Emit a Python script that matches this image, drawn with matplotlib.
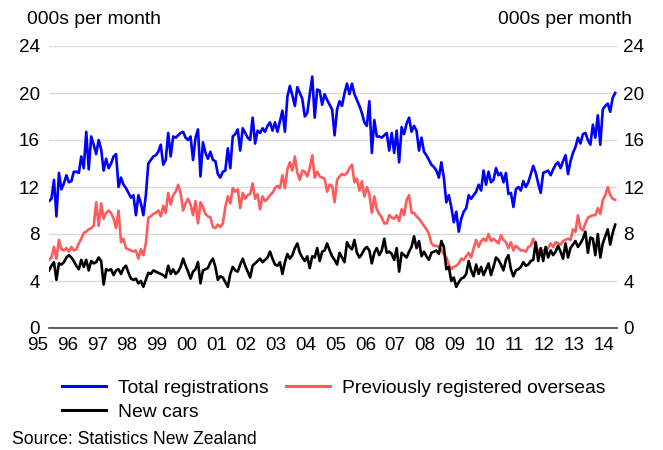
import numpy as np
import matplotlib
matplotlib.use("Agg")
import matplotlib.pyplot as plt

# ---------------- data (000s per month), monthly from May 1995 ----------------
start_year = 1995
start_month = 5

total = [
    10.8, 11.0, 12.6, 9.5, 13.2, 11.8, 12.3, 13.0, 12.4, 12.5, 13.3, 13.3,
    13.2, 14.6, 13.6, 16.7, 13.5, 16.3, 15.6, 14.8, 16.0, 15.2, 13.4, 14.4,
    13.6, 14.0, 14.6, 14.8, 12.0, 12.8, 12.2, 11.9, 11.5, 11.1, 11.3, 9.6,
    11.3, 10.6, 9.6, 11.3, 14.0, 14.3, 14.6, 14.7, 15.0, 15.6, 13.9, 14.3,
    16.6, 14.6, 16.3, 16.2, 16.4, 16.6, 16.7, 16.2, 16.0, 16.3, 14.3, 16.2,
    16.9, 12.9, 15.8, 14.9, 14.4, 15.0, 14.3, 14.2, 13.1, 12.8, 13.3, 13.4,
    15.3, 13.6, 16.3, 16.5, 16.9, 15.1, 17.0, 16.6, 16.2, 16.0, 17.9, 15.7,
    16.8, 16.6, 17.0, 16.7, 17.2, 17.5, 16.8, 17.5, 16.7, 17.6, 18.5, 16.7,
    19.7, 20.6, 19.8, 18.9, 20.5, 20.0, 19.5, 18.0, 18.3, 19.9, 21.4, 17.9,
    20.3, 20.2, 19.0, 19.9, 19.4, 19.0, 18.6, 16.4, 18.6, 19.3, 18.9, 20.0,
    20.8, 19.9, 20.8, 19.9, 19.4, 18.9, 18.3, 17.5, 17.2, 19.3, 14.9, 17.7,
    16.3, 16.3, 16.2, 16.4, 16.6, 15.1, 16.6, 14.9, 16.8, 14.1, 17.1, 16.5,
    17.4, 17.9, 16.7, 17.2, 16.8, 15.1, 16.2, 15.0, 14.7, 14.3, 13.9, 13.7,
    13.4, 12.8, 14.1, 12.8, 10.7, 11.3, 10.3, 9.0, 9.9, 8.2, 9.3, 9.9,
    10.2, 11.3, 11.0, 11.3, 11.6, 12.2, 11.7, 13.4, 12.2, 13.3, 12.4, 12.6,
    13.6, 13.0, 13.2, 12.4, 13.2, 11.4, 11.5, 10.3, 11.8, 12.0, 11.7, 12.5,
    12.0, 12.4, 13.1, 13.8, 13.2, 12.3, 11.5, 13.2, 13.3, 13.4, 13.0, 13.5,
    13.9, 14.1, 13.6, 14.2, 14.7, 13.1, 14.2, 14.9, 15.4, 16.2, 15.7, 16.5,
    16.6, 16.0, 15.6, 17.3, 16.2, 18.1, 15.6, 18.6, 18.9, 19.1, 18.4, 19.6,
    20.0,
]

overseas = [
    5.8, 6.0, 6.9, 5.9, 7.5, 6.7, 6.6, 6.8, 6.5, 6.9, 6.6, 6.7,
    7.2, 7.6, 8.1, 8.2, 8.4, 8.5, 8.7, 10.7, 8.7, 10.6, 9.3, 9.8,
    10.0, 9.8, 9.3, 8.5, 10.0, 7.3, 7.6, 6.8, 6.7, 6.6, 6.5, 6.6,
    5.9, 6.7, 6.2, 7.2, 9.4, 9.5, 9.7, 9.8, 10.0, 9.5, 10.4, 9.8,
    11.5, 10.5, 11.3, 11.6, 12.2, 11.5, 10.0, 10.6, 11.0, 10.5, 9.6, 10.8,
    8.9, 10.7, 10.3, 9.7, 9.5, 9.4, 8.6, 8.5, 8.8, 8.6, 8.9, 10.3,
    11.2, 10.6, 11.9, 11.6, 11.8, 10.2, 11.5, 11.0, 11.3, 11.4, 12.3, 11.0,
    11.4, 10.1, 11.2, 10.8, 11.0, 11.3, 11.5, 11.9, 12.1, 11.9, 13.0, 11.9,
    13.5, 14.1, 13.4, 14.6, 13.2, 12.6, 13.4, 13.3, 12.9, 13.6, 14.7, 12.8,
    13.3, 12.9, 12.8, 12.7, 11.6, 12.2, 12.1, 10.7, 12.6, 12.9, 13.1, 13.0,
    13.2, 13.6, 13.9, 12.4, 12.7, 11.7, 12.5, 11.2, 12.0, 11.4, 9.8, 11.2,
    10.1, 9.7, 9.4, 8.9, 8.9, 9.6, 9.4, 9.3, 9.6, 9.1, 10.1, 9.6,
    10.9, 11.3, 9.8, 9.8, 9.5, 9.3, 9.0, 8.7, 8.4, 8.0, 7.2, 7.0,
    7.0, 6.9, 6.6, 6.3, 6.0, 5.4, 5.0, 5.2, 5.3, 5.5, 5.9, 5.8,
    6.1, 6.4, 6.0, 6.8, 7.5, 6.9, 7.4, 7.6, 7.4, 8.0, 7.4, 7.6,
    7.4, 7.2, 7.9, 7.5, 7.3, 6.8, 7.3, 6.6, 7.0, 6.8, 6.6, 6.6,
    6.5, 6.9, 7.0, 7.6, 6.9, 6.6, 6.5, 6.6, 6.7, 6.8, 7.2, 6.9,
    7.3, 7.2, 7.1, 7.4, 7.5, 7.6, 7.5, 8.4, 8.2, 9.6, 8.5, 8.3,
    8.9, 9.4, 9.5, 9.6, 9.6, 10.2, 9.7, 10.9, 11.3, 12.0, 11.3, 11.0,
    10.9,
]

new_cars = [
    4.9, 5.3, 5.6, 4.1, 5.5, 5.4, 5.6, 6.0, 6.2, 6.0, 5.7, 5.3,
    5.0, 5.8, 5.2, 5.8, 4.9, 5.7, 5.5, 5.6, 6.0, 5.7, 3.7, 5.0,
    4.9, 5.0, 4.5, 4.9, 5.0, 4.6, 5.1, 5.3, 4.7, 4.2, 4.1, 4.2,
    3.8, 4.0, 3.5, 4.1, 4.7, 4.6, 4.9, 4.8, 4.7, 4.6, 4.5, 4.3,
    5.3, 4.6, 5.0, 4.6, 4.8, 5.2, 5.9, 5.3, 4.8, 4.2, 4.8, 5.0,
    5.6, 3.8, 4.9, 5.0, 5.1, 5.6, 5.9, 5.2, 4.1, 4.4, 4.3, 3.9,
    3.5, 4.6, 5.2, 4.9, 4.8, 5.4, 5.9, 5.3, 4.8, 4.3, 5.3, 5.5,
    5.7, 5.9, 5.6, 5.8, 6.0, 6.5, 5.9, 5.4, 5.3, 5.6, 4.6, 5.6,
    6.3, 5.9, 6.2, 6.8, 7.2, 6.4, 6.0, 5.7, 6.1, 5.1, 6.1, 6.0,
    6.8, 5.7, 6.5, 6.6, 7.2, 6.6, 6.1, 5.8, 5.4, 6.4, 6.0, 5.6,
    7.3, 6.9, 6.7, 7.5, 6.4, 6.0, 6.3, 6.7, 6.9, 6.6, 5.5, 6.4,
    6.8, 6.2, 6.6, 7.6, 6.4, 6.5, 6.3, 5.8, 6.8, 4.8, 6.4, 6.2,
    6.0, 6.5, 6.9, 7.8, 6.8, 7.4, 6.1, 6.5, 6.1, 5.8, 6.4, 6.5,
    6.6, 6.3, 7.4, 6.9, 5.0, 5.2, 4.0, 4.3, 3.5, 3.9, 4.2, 4.3,
    4.6, 5.7, 4.9, 4.4, 5.4, 4.6, 5.2, 4.5, 5.0, 5.5, 4.5, 5.2,
    6.0, 5.8, 5.4, 4.9, 5.8, 6.2, 5.0, 4.4, 4.9, 5.0, 5.2, 5.6,
    5.3, 5.4, 5.7, 5.8, 7.3, 5.7, 6.8, 5.7, 6.9, 6.0, 6.6, 6.2,
    6.5, 7.0, 6.5, 5.9, 7.2, 6.0, 6.8, 7.1, 7.4, 6.9, 7.2, 7.6,
    8.2, 6.4, 7.7, 7.6, 6.2, 8.0, 6.0, 7.2, 7.8, 8.4, 7.1, 8.1,
    8.8,
]

year_labels = ["95", "96", "97", "98", "99", "00", "01", "02", "03", "04",
               "05", "06", "07", "08", "09", "10", "11", "12", "13", "14"]
y_ticks = [0, 4, 8, 12, 16, 20, 24]

series_names = ["Total registrations", "Previously registered overseas", "New cars"]
series_colors = ["#0000FF", "#FF5B5B", "#000000"]

# ---------------- figure ----------------
W, H = 663, 450
DPI = 100
plt.rcParams["font.family"] = ["Liberation Sans", "DejaVu Sans"]
FS = 13.6
FS_LEG = 13.9
FS_SRC = 12.7

fig = plt.figure(figsize=(W / DPI, H / DPI), dpi=DPI)

def fx(px):
    return px / W

def fy(py):
    return 1 - py / H

ax_l, ax_r, ax_t, ax_b = 49, 617, 46, 328
ax = fig.add_axes([fx(ax_l), fy(ax_b), fx(ax_r) - fx(ax_l), fy(ax_t) - fy(ax_b)])

n = len(total)
x = np.array([start_year + (start_month - 1 + i) / 12.0 for i in range(n)])
px_per_year = 29.8
x_left = x[0]
x_right = x_left + (ax_r - ax_l) / px_per_year

lw = 1.9
h_tot, = ax.plot(x, total, color=series_colors[0], lw=lw, solid_joinstyle="round", zorder=3)
h_ov, = ax.plot(x, overseas, color=series_colors[1], lw=lw, solid_joinstyle="round", zorder=3)
h_new, = ax.plot(x, new_cars, color=series_colors[2], lw=lw, solid_joinstyle="round", zorder=4)

ax.set_xlim(x_left, x_right)
ax.set_ylim(0, 24)
ax.set_yticks(y_ticks)
ax.set_xticks([])
ax.yaxis.grid(True, color="#D9D9D9", lw=1.0)
ax.set_axisbelow(True)
for s in ["top", "left", "right"]:
    ax.spines[s].set_visible(False)
ax.spines["bottom"].set_color("#404040")
ax.spines["bottom"].set_linewidth(1.2)
ax.tick_params(axis="y", length=0, labelsize=FS, pad=6.5)

ax2 = ax.twinx()
ax2.set_ylim(0, 24)
ax2.set_yticks(y_ticks)
ax2.tick_params(axis="y", length=0, labelsize=FS, pad=4.5)
for s in ["top", "left", "right", "bottom"]:
    ax2.spines[s].set_visible(False)

for k, lbl in enumerate(year_labels):
    ax.annotate(lbl, xy=(start_year + k, 0), xycoords=("data", "axes fraction"),
                xytext=(-1, -12.5), textcoords="offset points",
                ha="center", va="center", fontsize=FS, annotation_clip=False)

fig.text(fx(27), fy(20), "000s per month", ha="left", va="center", fontsize=FS_LEG)
fig.text(fx(632), fy(20), "000s per month", ha="right", va="center", fontsize=FS_LEG)

leg = fig.legend([h_tot, h_new, h_ov],
                 [series_names[0], series_names[2], series_names[1]],
                 ncol=2, loc="upper left", bbox_to_anchor=(fx(62), fy(379)),
                 frameon=False, fontsize=FS_LEG, handlelength=2.3, handletextpad=0.62,
                 columnspacing=0.88, labelspacing=0.36, borderpad=0, borderaxespad=0)
for line in leg.get_lines():
    line.set_linewidth(2.2)

fig.text(fx(12), fy(439), "Source: Statistics New Zealand", ha="left", va="center", fontsize=FS_SRC)

fig.savefig("out.png", dpi=DPI)
